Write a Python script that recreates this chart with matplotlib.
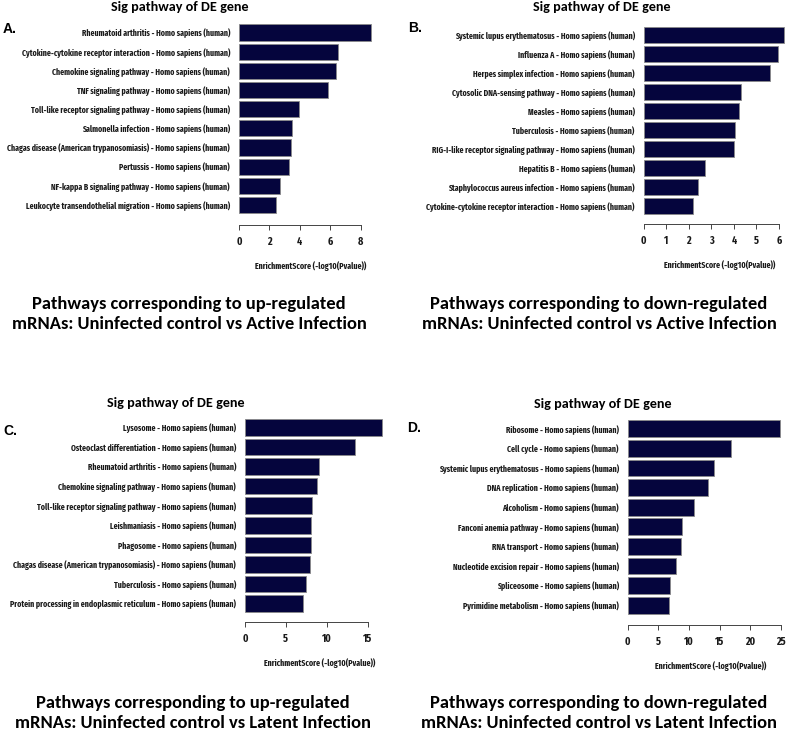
import matplotlib
matplotlib.use("Agg")
import matplotlib.pyplot as plt

# panel A: up-regulated, active infection
paths_a = ["Rheumatoid arthritis", "Cytokine-cytokine receptor interaction",
           "Chemokine signaling pathway", "TNF signaling pathway",
           "Toll-like receptor signaling pathway", "Salmonella infection",
           "Chagas disease (American trypanosomiasis)", "Pertussis",
           "NF-kappa B signaling pathway", "Leukocyte transendothelial migration"]
score_a = [8.68, 6.53, 6.40, 5.86, 3.95, 3.50, 3.43, 3.30, 2.70, 2.43]

# panel B: down-regulated, active infection
paths_b = ["Systemic lupus erythematosus", "Influenza A", "Herpes simplex infection",
           "Cytosolic DNA-sensing pathway", "Measles", "Tuberculosis",
           "RIG-I-like receptor signaling pathway", "Hepatitis B",
           "Staphylococcus aureus infection", "Cytokine-cytokine receptor interaction"]
score_b = [6.20, 5.94, 5.60, 4.30, 4.22, 4.03, 3.99, 2.72, 2.40, 2.19]

# panel C: up-regulated, latent infection
paths_c = ["Lysosome", "Osteoclast differentiation", "Rheumatoid arthritis",
           "Chemokine signaling pathway", "Toll-like receptor signaling pathway",
           "Leishmaniasis", "Phagosome", "Chagas disease (American trypanosomiasis)",
           "Tuberculosis", "Protein processing in endoplasmic reticulum"]
score_c = [16.7, 13.4, 9.05, 8.76, 8.15, 8.10, 8.05, 7.90, 7.40, 7.13]

# panel D: down-regulated, latent infection
paths_d = ["Ribosome", "Cell cycle", "Systemic lupus erythematosus", "DNA replication",
           "Alcoholism", "Fanconi anemia pathway", "RNA transport",
           "Nucleotide excision repair", "Spliceosome", "Pyrimidine metabolism"]
score_d = [24.9, 16.9, 14.05, 13.2, 10.8, 8.87, 8.7, 7.9, 6.99, 6.75]

ticks_a = [0, 2, 4, 6, 8]
ticks_b = [0, 1, 2, 3, 4, 5, 6]
ticks_c = [0, 5, 10, 15]
ticks_d = [0, 5, 10, 15, 20, 25]

captions = [
    "Pathways corresponding to up-regulated\nmRNAs: Uninfected control vs Active Infection",
    "Pathways corresponding to down-regulated\nmRNAs: Uninfected control vs Active Infection",
    "Pathways corresponding to up-regulated\nmRNAs: Uninfected control vs Latent Infection",
    "Pathways corresponding to down-regulated\nmRNAs: Uninfected control vs Latent Infection",
]

W, H = 787, 731
fig = plt.figure(figsize=(W / 100, H / 100), dpi=100, facecolor="white")

narrow = ["Fira Sans Extra Condensed", "Fira Sans Condensed", "DejaVu Sans"]
calibri = ["Carlito", "Lato"]
BAR = "#05053d"
TXT = "#1a1a1a"


def panel(paths, scores, ticks, x0, scale, top, bottom, out_px, letter, letter_xy, title_xy):
    xmax = max(scores) * 1.01
    ax = fig.add_axes([x0 / W, 1 - bottom / H, xmax * scale / W, (bottom - top) / H])
    labels = [p + " - Homo sapiens (human)" for p in paths]
    ypos = list(range(len(paths)))
    ax.barh(ypos, scores, height=0.85, color=BAR, edgecolor="#8a8a8a", linewidth=0.6)
    ax.set_ylim(len(paths) - 0.5, -0.5)
    ax.set_xlim(0, xmax)
    ax.set_yticks(ypos)
    ax.set_yticklabels(labels, family=narrow, fontweight="bold", fontsize=6.1, color=TXT)
    ax.tick_params(axis="y", length=0, pad=6.5)
    ax.set_xticks(ticks)
    ax.tick_params(axis="x", length=3.5, width=0.7, pad=4.5, color="#444444")
    for s in ["top", "right", "left"]:
        ax.spines[s].set_visible(False)
    ax.spines["bottom"].set_position(("outward", out_px * 0.72))
    ax.spines["bottom"].set_bounds(ticks[0], ticks[-1])
    ax.spines["bottom"].set_linewidth(0.7)
    ax.spines["bottom"].set_color("#444444")
    # tick text styled after the spine move (that move rebuilds the ticks)
    ax.set_xticklabels([str(t) for t in ticks])
    for lab in ax.get_xticklabels():
        lab.set_fontfamily(narrow)
        lab.set_fontweight("bold")
        lab.set_fontsize(7.8)
        lab.set_color(TXT)
    ax.set_xlabel("EnrichmentScore (-log10(Pvalue))", family=narrow, fontweight="bold",
                  fontsize=6.2, color=TXT)
    ax.xaxis.set_label_coords(0.54, -(out_px + 41) / (bottom - top))
    ax.xaxis.label.set_va("center")
    fig.text(letter_xy[0] / W, 1 - letter_xy[1] / H, letter, fontsize=10,
             fontweight="bold", family=["Liberation Sans", "DejaVu Sans"], ha="left", va="center")
    fig.text(title_xy[0] / W, 1 - title_xy[1] / H, "Sig pathway of DE gene", fontsize=10.2,
             fontweight="bold", family=calibri, ha="center", va="center")


panel(paths_a, score_a, ticks_a, 239, 15.2, 22.9, 214.6, 10.4, "A.", (3, 29), (180, 7))
panel(paths_b, score_b, ticks_b, 643.7, 22.55, 25.5, 215.5, 8.5, "B.", (408, 28), (602, 7))
panel(paths_c, score_c, ticks_c, 245, 8.18, 417.7, 613.3, 9, "C.", (3, 431), (176, 403))
panel(paths_d, score_d, ticks_d, 627.7, 6.12, 419, 615, 10, "D.", (407, 428), (603, 404))

cap_pos = [(189, 314), (599, 314), (193, 713), (599, 713)]
for (cx, cy), txt in zip(cap_pos, captions):
    fig.text(cx / W, 1 - cy / H, txt, fontsize=13.3, fontweight="bold", family=calibri,
             ha="center", va="center", linespacing=1.35)

fig.savefig("out.png", dpi=100, facecolor="white")
